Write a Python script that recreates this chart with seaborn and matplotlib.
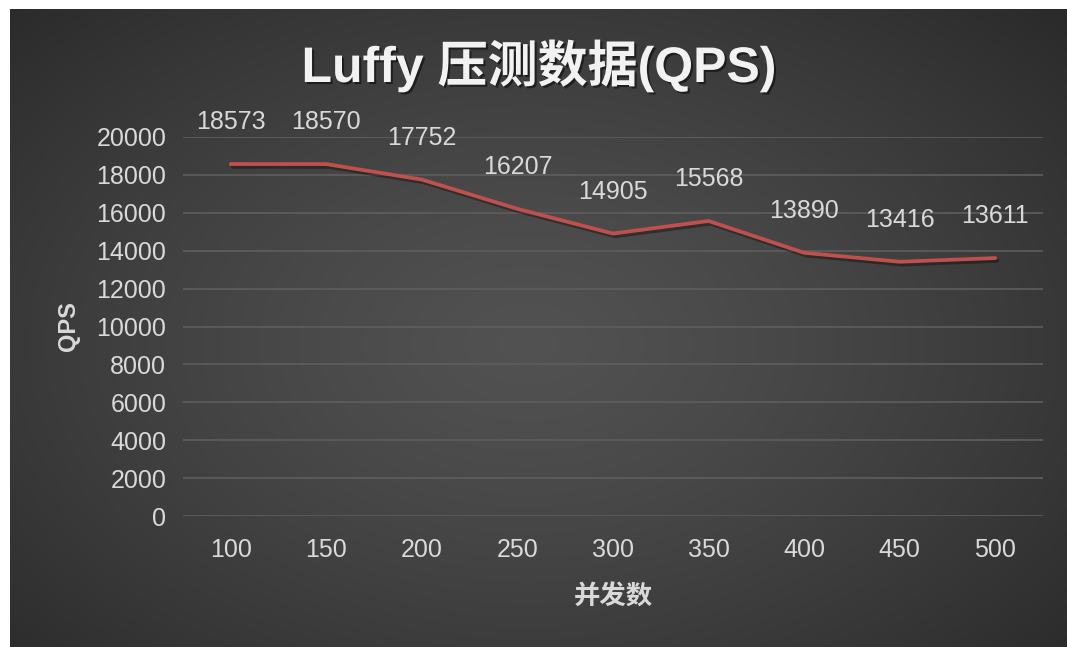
import numpy as np
import pandas as pd
import matplotlib
matplotlib.use("Agg")
import matplotlib.pyplot as plt
import matplotlib.patheffects as pe
import seaborn as sns

concurrency = ["100", "150", "200", "250", "300", "350", "400", "450", "500"]
qps = [18573, 18570, 17752, 16207, 14905, 15568, 13890, 13416, 13611]
y_ticks = [0, 2000, 4000, 6000, 8000, 10000, 12000, 14000, 16000, 18000, 20000]

title_text = "Luffy 压测数据(QPS)"
x_label = "并发数"
y_label = "QPS"

df = pd.DataFrame({x_label: concurrency, y_label: qps})

sns.set_style("white")
plt.rcParams["font.family"] = ["Liberation Sans", "Noto Sans CJK SC", "DejaVu Sans"]
plt.rcParams["axes.unicode_minus"] = False

text_color = "#d9d9d9"
line_color = "#c0504d"
grid_color = "#5e5e5e"

W, H = 1067, 647
fig = plt.figure(figsize=(W / 100, H / 100), dpi=100, facecolor="white")

# dark radial gradient background (Excel style chart area)
bg = fig.add_axes([10 / W, 0, (W - 10) / W, (H - 9) / H], zorder=0)
gx, gy = np.meshgrid(np.linspace(-1, 1, 600), np.linspace(-1, 1, 400))
r = np.sqrt(((gx + 0.02) / 1.15) ** 2 + ((gy - 0.05) / 1.25) ** 2)
r = np.clip(r / r.max(), 0, 1)
shade = 0.32 - (0.32 - 0.165) * r ** 1.3
bg.imshow(np.dstack([shade] * 3), aspect="auto", extent=[0, 1, 0, 1], interpolation="bicubic")
bg.set_axis_off()

ax = fig.add_axes([183 / W, 1 - 516 / H, 860 / W, 379 / H], zorder=1)
ax.patch.set_alpha(0)

sns.lineplot(data=df, x=x_label, y=y_label, sort=False, ax=ax, color=line_color, linewidth=2.7,
             path_effects=[pe.SimpleLineShadow(offset=(1.5, -2), shadow_color="black", alpha=0.35),
                           pe.Normal()])

for i, v in enumerate(qps):
    ax.annotate(str(v), (i, v), xytext=(0, 30), textcoords="offset points",
                ha="center", va="center", fontsize=18, color=text_color)

ax.set_xlim(-0.5, len(concurrency) - 0.5)
ax.set_ylim(0, 20000)
ax.set_yticks(y_ticks)
ax.set_yticklabels([str(t) for t in y_ticks])
ax.yaxis.grid(True, color=grid_color, linewidth=1.2)
ax.xaxis.grid(False)
ax.set_axisbelow(True)
for s in ax.spines.values():
    s.set_visible(False)
ax.tick_params(axis="y", length=0, pad=12, labelsize=18, labelcolor=text_color)
ax.tick_params(axis="x", length=0, pad=16, labelsize=18, labelcolor=text_color)

ax.set_xlabel(x_label, fontsize=19, fontweight="bold", color=text_color, labelpad=16)
ax.set_ylabel(y_label, fontsize=17, fontweight="bold", color=text_color, labelpad=12)

fig.text(539 / W, 1 - 82 / H, title_text, ha="center", va="baseline", fontsize=36,
         fontweight="bold", color="#f2f2f2",
         path_effects=[pe.withSimplePatchShadow(offset=(1.5, -1.5), shadow_rgbFace="black", alpha=0.5)])

fig.savefig("out.png", dpi=100, facecolor="white")
